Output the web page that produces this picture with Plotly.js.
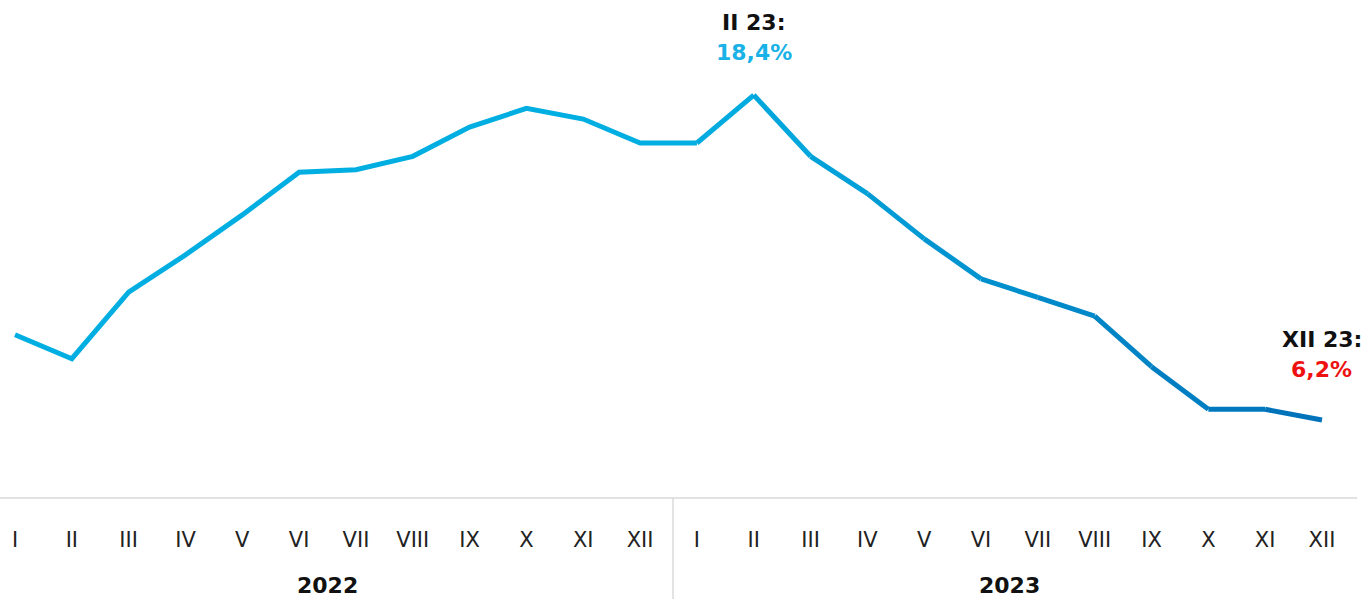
<!DOCTYPE html>
<html><head><meta charset="utf-8">
<script src="https://cdn.plot.ly/plotly-3.0.1.min.js"></script>
<style>html,body{margin:0;padding:0;background:#fff}#c{width:1362px;height:599px}</style>
</head><body><div id="c"></div>
<script>
const months = ["I","II","III","IV","V","VI","VII","VIII","IX","X","XI","XII"];
const years = ["2022","2023"];
const values2022 = [9.4, 8.5, 11.0, 12.4, 13.9, 15.5, 15.6, 16.1, 17.2, 17.9, 17.5, 16.6];
const values2023 = [16.6, 18.4, 16.1, 14.7, 13.0, 11.5, 10.8, 10.1, 8.2, 6.6, 6.6, 6.2];

const values = values2022.concat(values2023);
const xs = values.map((_, i) => i);
const tickText = months.concat(months);

function lerp(a, b, t) { return Math.round(a + (b - a) * t); }
function colAt(t) {
  const c0 = [0, 174, 226], c1 = [0, 112, 184];
  return `rgb(${lerp(c0[0],c1[0],t)},${lerp(c0[1],c1[1],t)},${lerp(c0[2],c1[2],t)})`;
}

const traces = [];
traces.push({x: xs.slice(0, 13), y: values.slice(0, 13), mode: 'lines', type: 'scatter',
  line: {color: colAt(0), width: 5}, hoverinfo: 'skip', showlegend: false});
for (let i = 12; i < values.length - 1; i++) {
  const t = (i - 11.5) / 11;
  traces.push({x: [xs[i], xs[i+1]], y: [values[i], values[i+1]], mode: 'lines', type: 'scatter',
    line: {color: colAt(Math.min(1, t)), width: 5}, hoverinfo: 'skip', showlegend: false});
}

const fontFam = "DejaVu Sans, sans-serif";
const peakIdx = 13, lastIdx = 23;
const fmt = v => v.toFixed(1).replace('.', ',') + '%';

const layout = {
  width: 1362, height: 599,
  margin: {l: 0, r: 0, t: 0, b: 101},
  paper_bgcolor: '#fff', plot_bgcolor: '#fff',
  xaxis: {range: [-0.264, 23.704], tickvals: xs, ticktext: tickText, showgrid: false, zeroline: false,
    showline: false, ticks: '', ticklabelstandoff: 27,
    tickfont: {family: fontFam, size: 21, color: '#222'}},
  yaxis: {range: [3.27, 21.97], visible: false, showgrid: false, zeroline: false},
  shapes: [
    {type: 'line', xref: 'paper', yref: 'paper', x0: 0, x1: 0.9965, y0: 0, y1: 0, line: {color: '#d9d9d9', width: 1.5}},
    {type: 'line', xref: 'x', yref: 'paper', x0: 11.58, x1: 11.58, y0: 0, y1: -0.25, line: {color: '#d9d9d9', width: 1.5}}
  ],
  annotations: [
    {x: 5.5, y: -0.176, xref: 'x', yref: 'paper', text: '<b>' + years[0] + '</b>', showarrow: false,
      font: {family: fontFam, size: 22, color: '#111'}, yanchor: 'middle'},
    {x: 17.5, y: -0.176, xref: 'x', yref: 'paper', text: '<b>' + years[1] + '</b>', showarrow: false,
      font: {family: fontFam, size: 22, color: '#111'}, yanchor: 'middle'},
    {x: peakIdx, y: values[peakIdx], xref: 'x', yref: 'y', yshift: 73, text: '<b>' + months[1] + ' 23:</b>', showarrow: false,
      font: {family: fontFam, size: 22, color: '#111'}, yanchor: 'middle'},
    {x: peakIdx, y: values[peakIdx], xref: 'x', yref: 'y', yshift: 43, text: '<b>' + fmt(values[peakIdx]) + '</b>', showarrow: false,
      font: {family: fontFam, size: 22, color: '#1ab2e6'}, yanchor: 'middle'},
    {x: lastIdx, y: values[lastIdx], xref: 'x', yref: 'y', yshift: 80, text: '<b>' + months[11] + ' 23:</b>', showarrow: false,
      font: {family: fontFam, size: 22, color: '#111'}, yanchor: 'middle'},
    {x: lastIdx, y: values[lastIdx], xref: 'x', yref: 'y', yshift: 50, text: '<b>' + fmt(values[lastIdx]) + '</b>', showarrow: false,
      font: {family: fontFam, size: 22, color: '#ee1111'}, yanchor: 'middle'}
  ]
};

Plotly.newPlot('c', traces, layout, {staticPlot: true, displayModeBar: false});
</script>
</body></html>
